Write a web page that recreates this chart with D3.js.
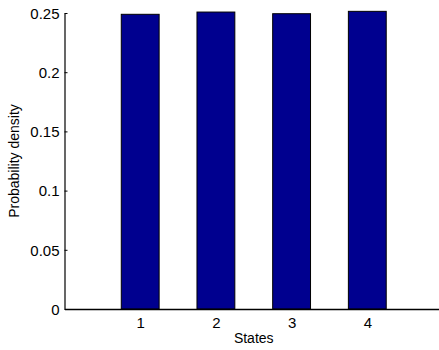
<!DOCTYPE html>
<html>
<head>
<meta charset="utf-8">
<script src="https://cdn.jsdelivr.net/npm/d3@7"></script>
<style>
  html, body { margin: 0; padding: 0; background: #fff; }
  svg { display: block; }
  text { font-family: "Liberation Sans", Arial, Helvetica, sans-serif; fill: #000; }
</style>
</head>
<body>
<svg id="chart" width="439" height="350"></svg>
<script>
// Probability of each state
const states = [1, 2, 3, 4];
const density = [0.2489, 0.2508, 0.2494, 0.2514];
const yTicks = [0, 0.05, 0.1, 0.15, 0.2, 0.25];
const yTickLabels = ["0", "0.05", "0.1", "0.15", "0.2", "0.25"];

const svg = d3.select("#chart");
const plotLeft = 64.5, plotRight = 443, plotTop = 13, plotBottom = 309;

const x = d3.scaleLinear().domain([0, 5]).range([plotLeft, plotRight]);
const y = d3.scaleLinear().domain([0, 0.25]).range([plotBottom, plotTop]);
const barWidth = 0.5;

// bars
svg.append("g")
  .selectAll("rect")
  .data(states)
  .join("rect")
  .attr("x", (d) => x(d - barWidth / 2))
  .attr("width", (d) => x(d + barWidth / 2) - x(d - barWidth / 2))
  .attr("y", (d, i) => y(density[i]))
  .attr("height", (d, i) => y(0) - y(density[i]))
  .attr("fill", "#00008f")
  .attr("stroke", "#000")
  .attr("stroke-width", 1);

// y axis with inward ticks
const yAxis = d3.axisLeft(y)
  .tickValues(yTicks)
  .tickFormat((d, i) => yTickLabels[i])
  .tickSizeInner(-3)
  .tickSizeOuter(0)
  .tickPadding(6);
const gy = svg.append("g").attr("transform", `translate(${plotLeft},0)`).call(yAxis);
gy.select(".domain").attr("stroke", "#000").attr("stroke-width", 1.2);
gy.selectAll(".tick line").attr("stroke", "#000");
gy.selectAll(".tick text").style("font-size", "15px").attr("dy", "0.35em").attr("x", -5);

// x axis
const xAxis = d3.axisBottom(x)
  .tickValues(states)
  .tickFormat(d3.format("d"))
  .tickSizeInner(0)
  .tickSizeOuter(0)
  .tickPadding(8);
const gx = svg.append("g").attr("transform", `translate(0,${plotBottom})`).call(xAxis);
gx.select(".domain").attr("stroke", "#000").attr("stroke-width", 1.5);
gx.selectAll(".tick text").style("font-size", "15px");

// axis titles
svg.append("text")
  .attr("x", (x(0) + x(5)) / 2)
  .attr("y", 343)
  .attr("text-anchor", "middle")
  .style("font-size", "14px")
  .text("States");

svg.append("text")
  .attr("transform", `translate(19,${(plotTop + plotBottom) / 2}) rotate(-90)`)
  .attr("text-anchor", "middle")
  .style("font-size", "14px")
  .text("Probability density");
</script>
</body>
</html>
